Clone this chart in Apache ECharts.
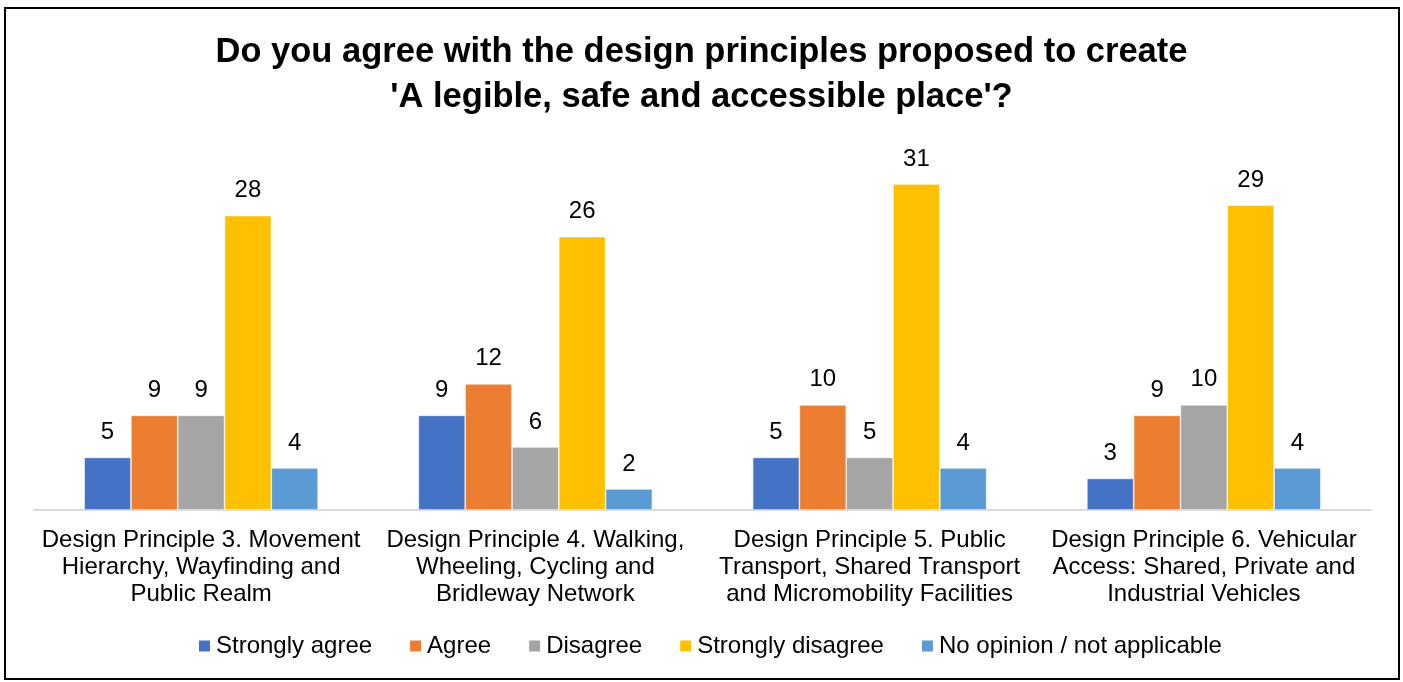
<!DOCTYPE html>
<html>
<head>
<meta charset="utf-8">
<script src="https://cdn.jsdelivr.net/npm/echarts@6/dist/echarts.min.js"></script>
<style>
  html, body { margin: 0; padding: 0; background: #fff; }
  #chart { width: 1403px; height: 682px; }
</style>
</head>
<body>
<div id="chart"></div>
<script>
// Design principle categories (x axis)
const categories = [
  'Design Principle 3. Movement\nHierarchy, Wayfinding and\nPublic Realm',
  'Design Principle 4. Walking,\nWheeling, Cycling and\nBridleway Network',
  'Design Principle 5. Public\nTransport, Shared Transport\nand Micromobility Facilities',
  'Design Principle 6. Vehicular\nAccess: Shared, Private and\nIndustrial Vehicles'
];

// Response counts per answer option
const stronglyAgree    = [5, 9, 5, 3];
const agree            = [9, 12, 10, 9];
const disagree         = [9, 6, 5, 10];
const stronglyDisagree = [28, 26, 31, 29];
const noOpinion        = [4, 2, 4, 4];

const seriesNames = ['Strongly agree', 'Agree', 'Disagree', 'Strongly disagree', 'No opinion / not applicable'];
const seriesData = [stronglyAgree, agree, disagree, stronglyDisagree, noOpinion];
const colors = ['#4472C4', '#ED7D31', '#A5A5A5', '#FFC000', '#5B9BD5'];

const font = 'Liberation Sans, Arial, sans-serif';

const chart = echarts.init(document.getElementById('chart'), null, { renderer: 'canvas' });

chart.setOption({
  animation: false,
  backgroundColor: '#fff',
  color: colors,
  title: {
    text: "Do you agree with the design principles proposed to create\n'A legible, safe and accessible place'?",
    left: 'center',
    top: 25,
    textStyle: {
      fontFamily: font,
      fontWeight: 'bold',
      fontSize: 34.5,
      lineHeight: 45,
      color: '#000'
    }
  },
  legend: {
    bottom: 19,
    left: 192,
    itemWidth: 13,
    itemHeight: 13,
    itemGap: 36,
    icon: 'rect',
    textStyle: { fontFamily: font, fontSize: 24, color: '#000' },
    data: seriesNames
  },
  grid: {
    left: 34,
    right: 32,
    top: 142,
    bottom: 172,
    containLabel: false
  },
  xAxis: {
    type: 'category',
    data: categories,
    axisLine: { show: true, lineStyle: { color: '#D9D9D9', width: 2 } },
    axisTick: { show: false },
    axisLabel: {
      interval: 0,
      margin: 17,
      fontFamily: font,
      fontSize: 24,
      lineHeight: 27,
      color: '#000',
      align: 'center'
    }
  },
  yAxis: {
    type: 'value',
    min: 0,
    max: 35,
    show: false,
    splitLine: { show: false }
  },
  series: seriesData.map((d, i) => ({
    name: seriesNames[i],
    type: 'bar',
    data: d,
    barGap: '0%',
    barCategoryGap: '30%',
    itemStyle: { color: colors[i], borderColor: '#fff', borderWidth: 0.6 },
    label: {
      show: true,
      position: 'top',
      distance: 13,
      fontFamily: font,
      fontSize: 24,
      color: '#000'
    }
  })),
  graphic: [{
    type: 'rect',
    shape: { x: 5, y: 8, width: 1394, height: 671 },
    style: { fill: 'none', stroke: '#000', lineWidth: 2 },
    silent: true
  }]
});
</script>
</body>
</html>
